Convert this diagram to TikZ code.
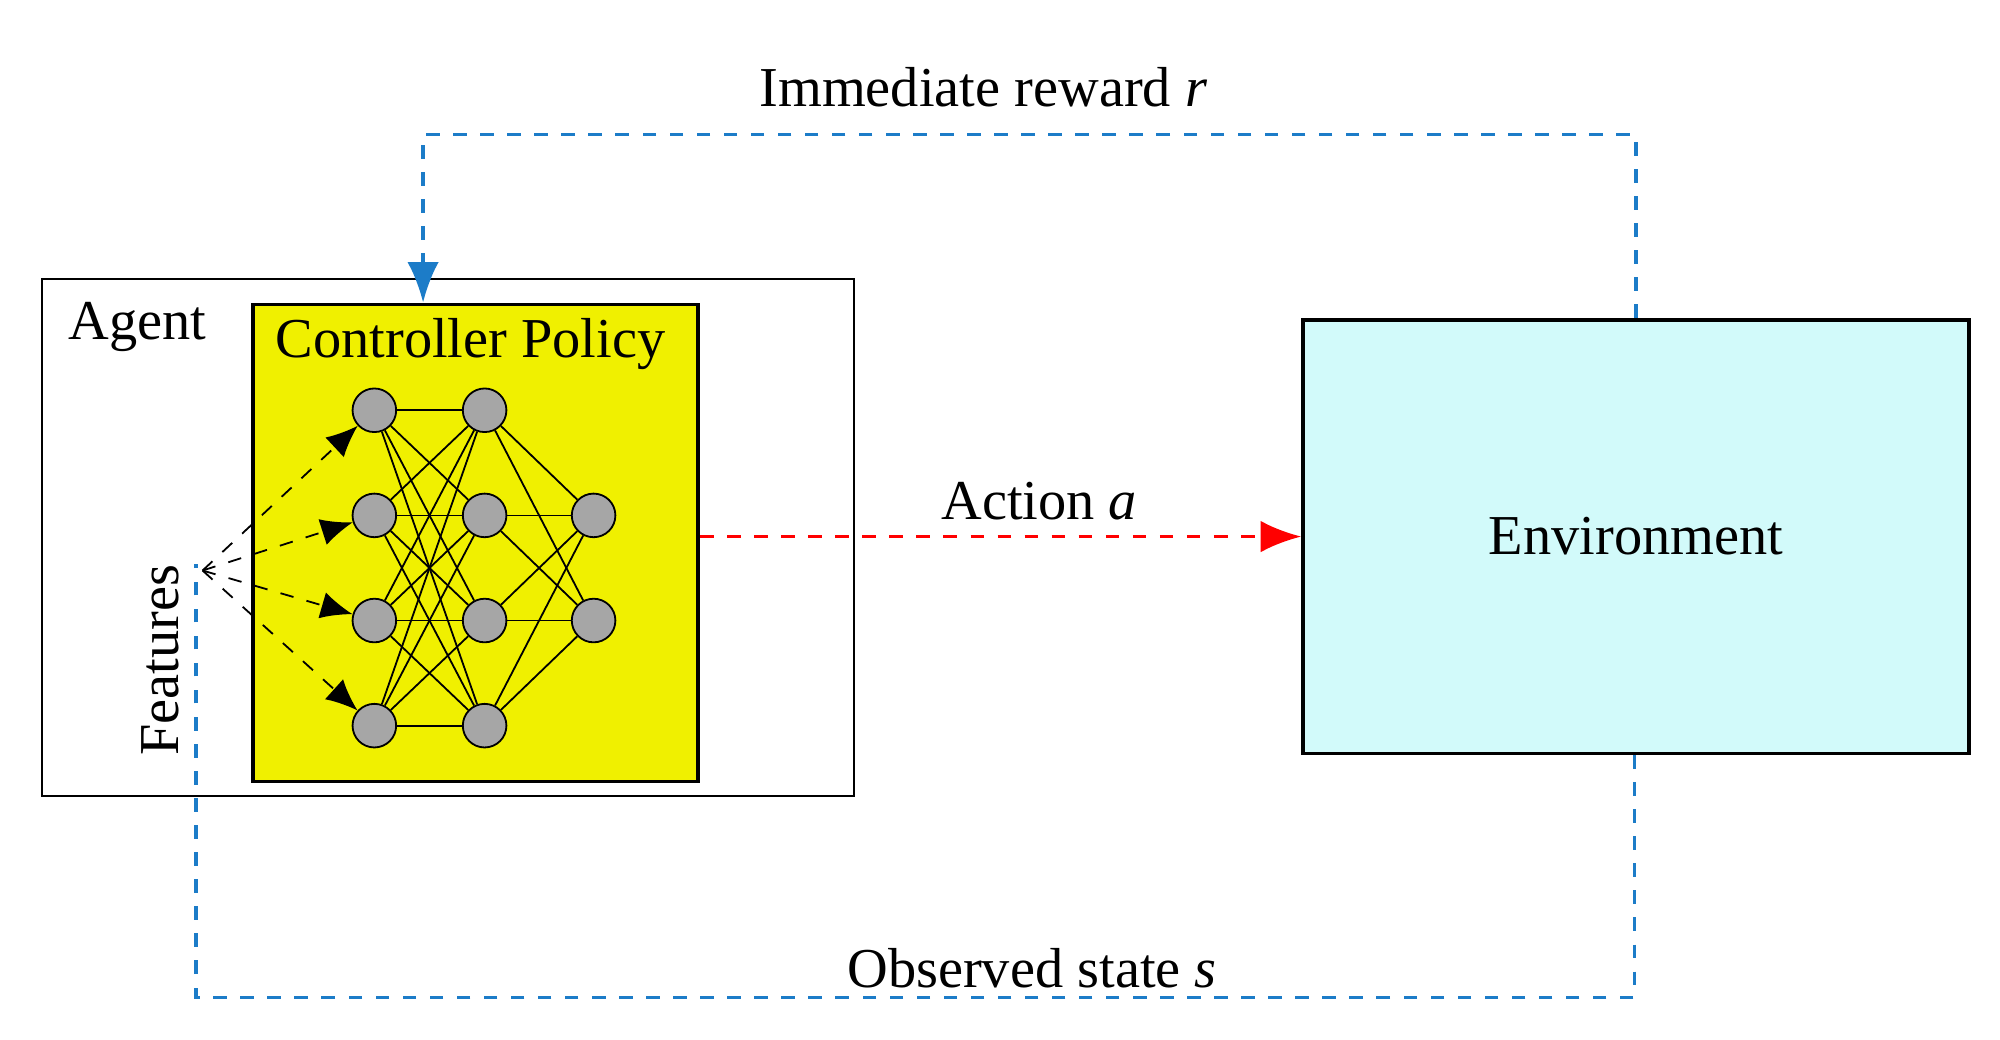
\documentclass[tikz,border=0pt]{standalone}
\usepackage{fontspec}
\setmainfont{Liberation Serif}
\usetikzlibrary{arrows.meta}
\definecolor{policyyellow}{HTML}{F0F000}
\definecolor{envcyan}{HTML}{D2FAFA}
\definecolor{linkblue}{HTML}{1C7CC8}
\begin{document}
\begin{tikzpicture}[x=0.01cm,y=-0.01cm,
    neuron/.style={circle,draw,fill=gray!70,minimum size=0.34cm,inner sep=0pt},
    feed/.style={dashed,-{Latex[length=7pt,width=6pt]}},
    fback/.style={linkblue,dashed,thick},
    lbl/.style={font=\fontsize{12.5}{14}\selectfont}]
    \useasboundingbox (0,0) rectangle (1560,811);

    % Rahmen
    \node[draw,minimum width=6.33cm,minimum height=4.03cm,anchor=north west] (agent) at (32,217) {};
    \node[draw,thick,fill=policyyellow,minimum width=3.47cm,minimum height=3.72cm,anchor=north west] (policy) at (196,236) {};
    \node[draw,thick,fill=envcyan,minimum width=5.19cm,minimum height=3.38cm,anchor=north west,lbl] (env) at (1015,248) {Environment};
    \node[lbl] (agentlbl) at (107,255) {Agent};
    \node[lbl] (policylbl) at (367,268) {Controller Policy};

    % Neuronen
    \foreach \y [count=\i] in {320,402,484,566} {
        \node[neuron] (a\i) at (292,\y) {};
        \node[neuron] (b\i) at (378,\y) {};
    }
    \foreach \y [count=\i] in {402,484} {
        \node[neuron] (c\i) at (463,\y) {};
    }
    \foreach \i in {1,...,4} {
        \foreach \j in {1,...,4} { \draw (a\i) -- (b\j); }
        \foreach \j in {1,2} { \draw (b\i) -- (c\j); }
    }

    % Merkmale
    \coordinate (feat) at (158,445);
    \node[lbl,rotate=90] (featlbl) at (125,515) {Features};
    \foreach \i in {1,...,4} { \draw[feed] (feat) -- (a\i); }

    % Aktion
    \draw[red,dashed,thick,-{Latex[length=9pt,width=7pt]}] (policy.east |- env.west) -- (env.west)
        node[midway,above,black,lbl,xshift=0.3cm] (actlbl) {Action \textit{a}};

    % Belohnung und Zustand
    \coordinate (rtop) at (1276,105);
    \coordinate (ltop) at (330,105);
    \draw[fback,-{Latex[length=9pt,width=7pt]}] (env.north -| rtop) -- (rtop) -- (ltop) -- (ltop |- policy.north);
    \node[lbl] (rewlbl) at (767,68) {Immediate reward \textit{r}};
    \coordinate (rbot) at (1275,778);
    \coordinate (lbot) at (153,778);
    \draw[fback] (env.south -| rbot) -- (rbot) -- (lbot) -- (153,440);
    \node[lbl] (obslbl) at (805,755) {Observed state \textit{s}};
\end{tikzpicture}
\end{document}
